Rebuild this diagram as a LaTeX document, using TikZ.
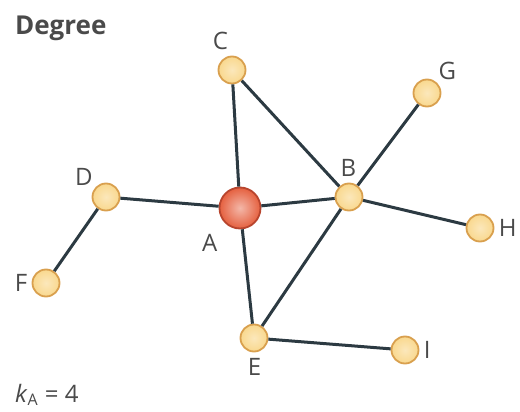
\documentclass[tikz,border=0pt]{standalone}
\usepackage{fontspec}
\setmainfont{Open Sans}
\usepackage{tikz}
\usetikzlibrary{positioning}
\definecolor{pnode}{HTML}{F9D88E}
\definecolor{pnodeline}{HTML}{D9A04E}
\definecolor{pred}{HTML}{E5603F}
\definecolor{predline}{HTML}{B8452E}
\definecolor{pedge}{HTML}{2C3A42}
\definecolor{ptext}{HTML}{4A4A4A}

\begin{document}
\begin{tikzpicture}[x=0.5pt,y=-0.5pt,
  font=\fontsize{12}{14}\selectfont,
  vert/.style={circle,draw=pnodeline,line width=0.9pt,inner color=pnode!60,outer color=pnode,
               minimum size=13.5pt,inner sep=0pt},
  hub/.style={circle,draw=predline,line width=0.9pt,inner color=pred!45,outer color=pred,
              minimum size=20.5pt,inner sep=0pt},
  lbl/.style={text=ptext,inner sep=1pt},
  edge/.style={draw=pedge,line width=1.5pt}]
\useasboundingbox (0,0) rectangle (520,412);
\node[font=\fontsize{13}{15}\selectfont\bfseries,text=ptext,anchor=west] (title) at (8,28) {Degree};
% the graph
\node[hub]  (a) at (240,208) [label={[lbl,label distance=5pt]-130:A}] {};
\node[vert] (b) at (349,197) [label={[lbl,label distance=2pt]92:B}] {};
\node[vert] (c) at (232,70)  [label={[lbl,label distance=2pt]95:C}] {};
\node[vert] (d) at (106,197) [label={[lbl,label distance=0pt]140:D}] {};
\node[vert] (e) at (254,338) [label={[lbl,label distance=2pt]-88:E}] {};
\node[vert] (f) at (46,283)  [label={[lbl,label distance=1pt]180:F}] {};
\node[vert] (g) at (427,93)  [label={[lbl,label distance=0pt]50:G}] {};
\node[vert] (h) at (480,228) [label={[lbl,label distance=1pt]0:H}] {};
\node[vert] (i) at (405,350) [label={[lbl,label distance=1pt]0:I}] {};
% connectors
\draw[edge] (a) -- (c);
\draw[edge] (a) -- (b);
\draw[edge] (a) -- (d);
\draw[edge] (a) -- (e);
\draw[edge] (c) -- (b);
\draw[edge] (b) -- (g);
\draw[edge] (b) -- (h);
\draw[edge] (b) -- (e);
\draw[edge] (d) -- (f);
\draw[edge] (e) -- (i);
\node[text=ptext,anchor=west] (k) at (8,395) {\textit{k}\textsubscript{A} = 4};
\end{tikzpicture}
\end{document}
